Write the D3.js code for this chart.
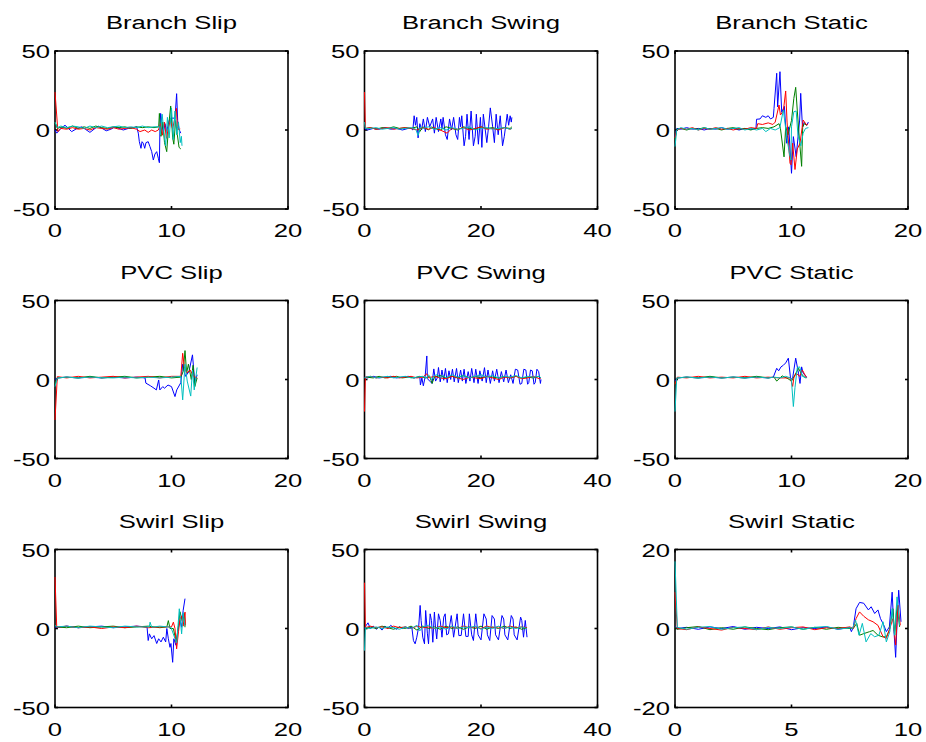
<!DOCTYPE html>
<html>
<head>
<meta charset="utf-8">
<script src="https://cdn.jsdelivr.net/npm/d3@7"></script>
<style>
  body { margin: 0; background: #fff; }
  text { font-family: "Liberation Sans", Arial, sans-serif; fill: #000; }
</style>
</head>
<body>
<svg id="fig" width="926" height="742"></svg>
<script>
// ---- data: [time, value] pairs ----

// Branch Slip
const branchSlipB = [[0,0],[0.15,-2],[0.5,1],[0.86,3],[1.15,1],[1.43,-1],[1.9,1],[2.29,2],[2.6,0.5],[3.0,-1.5],[3.35,0.5],[3.7,2.5],[4.05,1],[4.4,-0.5],[4.8,0.5],[5.15,2],[5.5,1],[5.86,0],[6.3,1],[6.7,1.5],[7.01,2],[7.15,-2],[7.24,-7.4],[7.38,-11.6],[7.47,-7.4],[7.58,-8.4],[7.7,-11.6],[7.81,-8],[8.0,-7.4],[8.15,-10.5],[8.3,-13.7],[8.44,-19],[8.58,-15.2],[8.73,-13.7],[8.87,-17.9],[8.96,-20.7],[9.01,2],[9.07,10.5],[9.3,-2],[9.44,4],[9.58,-1],[9.8,6],[9.95,7.5],[10.3,7.5],[10.44,23],[10.53,6],[10.65,0.5],[10.79,-2]];
const branchSlipG = [[0,5],[0.2,1],[0.6,2],[1.0,1],[1.5,2.5],[2.0,1],[2.5,2],[3.0,1],[3.5,2.5],[4.0,1.5],[4.5,1],[5.0,2],[5.5,1.5],[6.0,2],[6.5,1],[7.0,2],[7.5,1.5],[8.0,2],[8.5,1.5],[8.9,2],[8.96,10.5],[9.1,-4],[9.25,5],[9.4,-8],[9.59,-13.7],[9.75,2],[9.93,15.2],[10.1,-5],[10.2,-9],[10.35,6],[10.5,-3],[10.65,-11],[10.8,-12]];
const branchSlipR = [[0,24],[0.25,-1],[0.5,1],[1.0,0.5],[1.5,1.5],[2.0,0.5],[2.5,1],[3.0,0],[3.5,1.5],[4.0,1],[4.5,0.5],[5.0,1.5],[5.5,0.5],[6.0,1],[6.5,1.5],[7.0,0.5],[7.3,-1],[7.7,0],[8.0,-1.5],[8.3,0],[8.6,-1],[8.87,0],[9.07,4],[9.22,-3.3],[9.4,5],[9.56,-5.3],[9.76,2],[9.9,6],[10.1,0.6],[10.27,7],[10.42,13.7],[10.5,2],[10.65,0],[10.75,0.6]];
const branchSlipC = [[0,5],[0.2,1.5],[0.5,2.5],[1.0,1.5],[1.5,2.5],[2.0,2],[2.5,1],[3.0,2.5],[3.5,1.5],[4.0,2.5],[4.5,1.5],[5.0,2],[5.5,2.5],[6.0,1.5],[6.5,2],[7.0,1.5],[7.5,2.5],[8.0,1.5],[8.5,2],[9.0,2],[9.05,-3],[9.2,10],[9.35,-2],[9.5,-10],[9.65,8],[9.8,-5],[10.0,14],[10.15,-6],[10.3,12],[10.45,-3],[10.6,5],[10.75,-8],[10.85,-4],[10.9,-10]];

// Branch Swing
const branchSwingB = [[0,1],[0.5,0],[1.5,1],[2.5,0.5],[3.5,1.5],[4.5,0.5],[5.5,1],[6.5,0],[7.5,1],[8.0,1],[8.3,0],[8.52,9],[8.75,3],[8.97,8],[9.2,-5],[9.5,4],[9.8,0],[10.1,7],[10.45,-1],[10.8,8],[11.2,2],[11.7,7],[12.0,-2],[12.3,8],[12.7,-1],[13.1,7],[13.3,1],[13.5,8],[13.9,-3],[14.2,-6],[14.6,7],[14.95,0],[15.3,8],[15.7,-3],[16.0,-6],[16.3,8],[16.5,2],[16.7,9],[17.1,-10],[17.35,-4],[17.6,10],[17.95,-6],[18.3,12],[18.7,-10],[19.0,-4],[19.2,10],[19.55,-9],[19.9,8],[20.15,-11],[20.4,10],[21.0,-8],[21.3,2],[21.6,14],[22.0,2],[22.3,-8],[22.6,10],[22.95,-3],[23.3,9],[23.7,-10],[24.0,-4],[24.5,10],[24.75,3],[25.0,9],[25.2,5],[25.3,8]];
const branchSwingG = [[0,2],[0.3,1],[1,1.5],[2,0.5],[3,1.5],[4,1],[5,2],[6,1],[7,1.5],[8,1],[9,2],[9.5,-1],[10,2],[11,0],[11.5,2],[12,1],[13,0],[14,2],[15,1],[16,0],[17,2],[18,1],[19,0.5],[20,2],[21,1],[22,1.5],[23,0.5],[24,1.5],[25,1],[25.3,2]];
const branchSwingR = [[0,24],[0.15,1],[1,1.5],[2,0.5],[3,1],[4,1.5],[5,0.5],[6,1],[7,1.5],[8,1],[9,0],[10,1.5],[11,0.5],[12,1.5],[13,0],[14.2,-2],[15,1],[16,0.5],[17,1.5],[18,0],[19,1],[20,2],[21,0.5],[22,1],[23,0],[24,1.5],[25,0.5],[25.3,1]];
const branchSwingC = [[0,5],[0.15,1],[1,1],[2,1.5],[3,0.5],[4,1],[5,1.5],[6,0.5],[7,1],[8,1.5],[8.8,0.5],[9.2,-3.5],[9.6,2],[10,1],[11,2],[12,0.5],[13,1.5],[14,0],[15,1.5],[16,0.5],[17,1],[18,2],[19,0],[20,1],[21,1.5],[22,0.5],[23,1],[24,1.5],[25,0.5],[25.3,1]];

// Branch Static
const branchStaticB = [[0,-4],[0.15,1],[0.5,0.5],[1,1.5],[1.5,0.5],[2,1],[2.5,0],[3,1],[3.5,0.5],[4,1.5],[4.5,0.5],[5,1],[5.5,0],[6,1],[6.5,0.5],[6.95,1],[7.0,6.8],[7.3,7],[7.5,9],[7.8,8],[8.0,9],[8.2,7],[8.44,8],[8.5,13.7],[8.73,35.9],[8.81,14.6],[9.01,36.9],[9.16,11.2],[9.39,15],[9.59,-8.4],[9.76,2],[10.0,-27.4],[10.16,-4.2],[10.4,-16.9],[10.7,6.3],[10.79,23.2],[10.94,2],[11.1,5],[11.3,3],[11.45,5]];
const branchStaticG = [[0,-6],[0.15,0.5],[0.5,1],[1,0],[1.5,1],[2,0.5],[2.5,1.5],[3,0.5],[3.5,1],[4,0],[4.5,1],[5,1.5],[5.5,0.5],[6,1],[6.5,0],[7,1],[7.5,1.5],[8,1],[8.5,2],[8.93,4],[9.05,1],[9.36,-17],[9.5,2],[9.7,-3],[10.0,6],[10.2,20],[10.36,27],[10.5,12],[10.7,-8],[10.87,-23],[10.96,1.6],[11.1,4],[11.3,3]];
const branchStaticR = [[0,-5],[0.15,0],[0.5,1],[1,0.5],[1.5,1.5],[2,0],[2.5,1],[3,0.5],[3.5,1.5],[4,0.5],[4.5,1],[5,0],[5.5,1],[6,0.5],[6.5,1.5],[7,1],[7.1,4],[7.5,3.5],[8.0,4.5],[8.4,3.5],[8.6,5],[8.93,15.8],[9.05,9.5],[9.3,12],[9.5,24.7],[9.62,5],[9.87,-21],[9.96,-22],[10.1,-8.4],[10.3,-25],[10.5,-12],[10.73,-8.4],[11.0,6.3],[11.3,3],[11.4,4]];
const branchStaticC = [[0,-10.5],[0.15,0],[0.5,1.5],[1,0.5],[1.5,1],[2,0],[2.5,1.5],[3,0.5],[3.5,1],[4,1.5],[4.5,0.5],[5,1],[5.5,1.5],[6,0],[6.5,1],[7,0],[7.5,1],[7.8,-1],[8.2,1],[8.6,0],[9.0,1.5],[9.3,12.6],[9.59,-4.2],[9.81,-14.6],[9.95,-19],[10.0,2],[10.2,11.6],[10.4,12],[10.55,-3],[10.8,-10],[11.0,-2],[11.2,1],[11.45,1.5]];

// PVC Slip
const pvcSlipB = [[0,0],[0.2,1],[1,1.5],[2,1],[3,1.5],[4,1],[5,1.5],[6,1],[7,1.5],[7.73,1],[7.8,-2.3],[8.2,-4],[8.5,-5.5],[8.7,-6.6],[8.9,-0.3],[9.0,-6.6],[9.25,-4.5],[9.4,-5.5],[9.7,-3.5],[10.0,-4.5],[10.3,-10.8],[10.45,-6.6],[10.8,-2],[10.96,9.7],[11.2,2],[11.5,5],[11.8,15.6],[12.0,-2],[12.2,3]];
const pvcSlipG = [[0,-3],[0.2,1],[1,1.5],[2,1],[3,2],[4,1],[5,1.5],[6,2],[7,1],[8,1.5],[9,2],[10,1],[10.8,1.5],[11.0,5],[11.16,18.3],[11.3,4],[11.45,9.7],[11.7,0],[11.85,9],[12.0,-4.5],[12.2,1]];
const pvcSlipR = [[0,-25.6],[0.2,1.8],[1,1],[2,2],[3,1],[4,1.5],[5,2],[6,1],[7,1.5],[8,2],[9,1],[10,2],[10.8,2],[10.96,16.6],[11.1,8],[11.3,4],[11.6,6],[11.9,2],[12.2,1]];
const pvcSlipC = [[0,-4.5],[0.2,1],[1,1.5],[2,1],[3,1.5],[4,1.2],[5,1],[6,1.5],[7,1],[8,1.5],[9,1],[10,1.5],[10.8,2],[10.96,-12.9],[11.16,9.7],[11.35,-1],[11.65,-10.5],[11.8,6],[11.95,-6.6],[12.2,7.6]];

// PVC Swing
const pvcSwingB = [[0,1.5],[0.5,1],[1.5,2],[2.5,1],[3.5,1.5],[4.5,2],[5.5,1],[6.5,1.5],[7.5,2],[8.5,1],[9.5,1.5],[9.6,-3.5],[9.85,1],[10.1,-4],[10.4,1.5],[10.7,14.9],[10.8,0.5],[11.2,-1],[11.6,-2.5],[11.9,6.7],[12.2,-1],[12.5,1],[12.7,7.6],[13.0,-1.5],[13.3,6],[13.6,-0.5],[13.9,7],[14.2,-2],[14.5,5.5],[14.8,0],[15.1,6.5],[15.4,-1.5],[15.8,7],[16.1,-2],[16.5,6],[16.8,-1],[17.1,6.5],[17.4,-2.5],[17.8,5],[18.1,-1],[18.4,7],[18.8,-2],[19.1,6.5],[19.5,-2.5],[19.8,5.5],[20.2,-1],[20.6,7.5],[20.9,-2],[21.2,6],[21.6,-2.5],[22.0,5.5],[22.3,-1],[22.7,6.5],[23.1,-2],[23.5,5],[23.9,-1.5],[24.3,6],[24.7,-2],[25.1,3],[25.5,-2.5],[25.9,6.5],[26.3,6],[26.7,-3],[27.0,-2.5],[27.35,6.5],[27.7,6],[28.0,-3],[28.2,-2],[28.5,6],[28.8,5.5],[29.1,-3],[29.3,-2],[29.6,6.5],[29.9,5],[30.2,-2.5],[30.3,0]];
const pvcSwingG = [[0,1],[0.3,1.5],[1.5,1],[2.5,2],[3.5,1],[4.5,1.5],[5.5,2],[6.5,1],[7.5,1.5],[8.5,1],[9.5,2],[10.5,1],[11.2,2],[11.6,-2.5],[12,1.5],[13,2.5],[14,1],[15,2],[16,1],[17,2.5],[18,1],[19,2],[20,1],[21,2],[22,1.5],[23,1],[24,2],[25,1],[26,2],[27,1],[28,1.5],[29,1],[30,2],[30.3,1]];
const pvcSwingR = [[0,-20.3],[0.15,1.5],[1,2],[2,1],[3,1.5],[4,1],[5,2],[6,1],[7,1.5],[8,2],[9,1],[10,1.5],[10.7,3.6],[11,1],[12,2],[13,1],[14,0.5],[15,2],[16,1],[17,0],[18,1.5],[19,1],[20,0.5],[21,2],[22,1],[23,0],[24,1.5],[25,1],[26,2],[27,0.5],[28,1],[29,2],[30,0.5],[30.3,1]];
const pvcSwingC = [[0,1],[0.3,1.5],[1,2],[2,1],[3,1.5],[4,2],[5,1],[6,1.5],[7,2],[8,1],[9,1.5],[10,2],[10.7,1],[11,3],[11.5,0],[12,2.5],[12.5,3],[13,1],[13.5,2.5],[14,1],[15,3],[16,1.5],[17,2.5],[18,1],[19,2],[20,3],[21,1.5],[22,2.5],[23,1],[24,2],[25,1.5],[26,2.5],[27,1],[28,2],[29,1.5],[30,2],[30.3,1]];

// PVC Static
const pvcStaticB = [[0,-1],[0.2,1],[1,1.5],[2,1],[3,1.5],[4,1],[5,1.5],[6,1],[7,1.5],[8,1],[8.44,1.5],[8.73,7.1],[8.9,5.5],[9.1,8],[9.3,9],[9.5,10.5],[9.73,13.5],[9.93,0],[10.1,1],[10.36,13.5],[10.6,4],[10.73,-2.5],[10.87,8],[11.0,4],[11.3,1.5]];
const pvcStaticG = [[0,-3],[0.2,1],[1,1.5],[2,1],[3,2],[4,1],[5,1.5],[6,1],[7,2],[8,1],[8.5,1.5],[8.73,-1],[9.2,2.3],[9.7,0.5],[10.0,-1],[10.3,3],[10.6,7],[10.9,3],[11.2,1]];
const pvcStaticR = [[0,-3],[0.2,1.5],[1,1],[2,2],[3,1],[4,1.5],[5,1],[6,2],[7,1],[8,1.5],[9,1],[9.9,1],[10.1,-4.4],[10.2,1],[10.4,4],[10.7,2],[10.93,6],[11.3,1]];
const pvcStaticC = [[0,-20.3],[0.15,1],[1,1.5],[2,1],[3,1.5],[4,1],[5,1.5],[6,1],[7,1.5],[8,1],[8.5,1.5],[9,1],[9.5,2],[9.9,1],[10.0,-1],[10.16,-17.1],[10.3,-5],[10.5,7.5],[10.7,8],[10.93,2],[11.3,1]];

// Swirl Slip
const swirlSlipB = [[0,1],[0.2,0.5],[1,1.5],[2,0.5],[3,1],[4,1.5],[5,0.5],[6,1],[7,1.5],[7.9,1],[8.0,-7.6],[8.1,-3.4],[8.3,-6.5],[8.5,-4.5],[8.73,-9.5],[8.9,-6.5],[9.1,-8.5],[9.3,-5.5],[9.5,-8.5],[9.6,0],[9.73,-6.5],[9.87,-11.9],[9.95,-9.5],[10.1,-21.4],[10.2,-6.5],[10.38,-10.6],[10.6,0.8],[10.73,5],[10.87,0.8],[11.0,11.4],[11.16,18.9]];
const swirlSlipG = [[0,2],[0.15,1],[1,0.5],[2,1.5],[3,0.5],[4,1],[5,1.5],[6,0.5],[7,1],[8,1.5],[9,0.5],[9.6,1],[9.73,5],[9.87,0],[10.16,0],[10.4,-8.5],[10.6,2],[10.73,10.6],[10.95,4],[11.1,9.5],[11.16,0.8]];
const swirlSlipR = [[0,32.6],[0.15,0.8],[1,1.5],[2,0.5],[3,1],[4,0],[5,1],[6,0.5],[7,1.5],[8,0.5],[9,1],[10.0,1],[10.16,4],[10.3,0],[10.44,-12.9],[10.6,-2],[10.73,6],[10.87,8],[11.0,1.5],[11.16,10.4],[11.2,2]];
const swirlSlipC = [[0,2],[0.15,1],[1,1.5],[2,0.5],[3,1.5],[4,1],[5,0.5],[6,1.5],[7,1],[8.1,1],[8.16,4],[8.3,0.8],[9,1.5],[9.95,0.8],[10.3,-6.4],[10.45,-9],[10.67,12.5],[10.87,-3.4],[11.0,10],[11.16,2]];

// Swirl Swing
const swirlSwingB = [[0,0],[0.3,2],[0.6,3.6],[1.0,0],[1.5,1.5],[2.0,-0.5],[2.5,1],[3.0,-1],[3.5,1.5],[4.0,0],[4.5,2],[5.0,0.5],[5.5,-0.5],[6.0,1],[6.5,0],[7.0,1],[7.5,0],[8.12,0.9],[8.4,-7.6],[8.69,-9.7],[8.98,-5.5],[9.3,1],[9.55,14.6],[9.72,5.1],[10.0,-5.5],[10.3,-9.7],[10.5,11.4],[10.8,-3.4],[10.99,-9.7],[11.27,9.3],[11.5,5],[11.73,-8.7],[12.0,10.4],[12.2,0],[12.4,-6.6],[12.7,9.3],[13.0,5],[13.3,-5.5],[13.6,7.2],[13.85,9.3],[14.1,-4],[14.4,-3.4],[14.9,8.2],[15.3,-5.5],[15.9,9.3],[16.2,-4.5],[16.6,-4.4],[17.0,9.3],[17.4,-5],[17.8,-5],[18.0,9.3],[18.4,-4],[18.7,-7.6],[19.1,9.3],[19.5,-4],[20.0,-7.2],[20.5,9.3],[20.9,6],[21.1,-4],[21.5,-7.6],[21.9,8.2],[22.3,6],[22.5,-4],[23.0,-7.2],[23.6,8.2],[23.9,6],[24.1,-4],[24.6,-7.2],[25.2,8.2],[25.5,6],[25.7,-4],[26.2,-7.2],[26.8,7.2],[27.0,5],[27.3,-5.5],[27.6,5.1],[27.9,-5.5]];
const swirlSwingG = [[0,1],[0.3,0],[1,1],[2,0],[3,1.5],[4,0.5],[5,-0.5],[6,1],[7,0],[8,1.5],[9,-1],[10,1.5],[11,0],[12,1],[13,-0.5],[14,1.5],[15,0],[16,1],[17,-0.5],[18,1],[19,0],[20,1.5],[21,-0.5],[22,1],[23,0],[24,1.5],[25,0],[26,1],[27,-0.5],[27.9,0.5]];
const swirlSwingR = [[0,29],[0.15,0.5],[1,1.5],[2,0.5],[3,1],[4,0],[5,1.5],[6,0.5],[7,1],[8,0],[9,1.5],[10,0.5],[11,1],[12,0],[13,1.5],[14,0.5],[15,1],[16,0],[17,1.5],[18,0.5],[19,1],[20,0],[21,1.5],[22,0.5],[23,1],[24,0],[25,1.5],[26,0.5],[27,1],[27.9,0.5]];
const swirlSwingC = [[0,-14],[0.15,0.5],[1,0],[2,1],[3,0],[4,1],[5,0.5],[6,-0.5],[7,1],[8,0],[9,2],[9.5,-1.5],[10,1],[11,2],[12,0],[13,1],[14,-0.5],[15,1.5],[16,0],[17,1],[18,0.5],[19,1.5],[20,-0.5],[21,1],[22,0],[23,1.5],[24,0],[25,1],[26,0],[27,1],[27.9,0]];

// Swirl Static
const swirlStaticB = [[0,0.5],[0.1,0],[0.5,0.3],[1,-0.2],[1.5,0.4],[2,0],[2.5,0.5],[3,-0.2],[3.5,0.3],[4,0],[4.5,0.4],[5,-0.3],[5.5,0.2],[6,0],[6.5,0.4],[7,-0.2],[7.5,0.3],[7.57,-0.8],[7.65,0.3],[7.77,5],[7.92,6.6],[8.1,6.4],[8.3,4.7],[8.42,5.5],[8.57,3.8],[8.71,4.7],[8.82,2.5],[8.95,1],[9.07,-0.8],[9.2,0.4],[9.32,9.2],[9.4,-0.8],[9.47,-7.3],[9.53,1.5],[9.6,9.7],[9.7,1.7]];
const swirlStaticG = [[0,0.3],[0.1,-0.2],[0.5,0.2],[1,0.5],[1.5,-0.3],[2,0.2],[2.5,-0.2],[3,0.4],[3.5,0],[4,-0.3],[4.5,0.2],[5,0.4],[5.5,-0.2],[6,0.3],[6.5,-0.2],[7,0.3],[7.5,0],[7.65,0],[7.8,1.3],[7.92,-1.7],[8.1,-1.3],[8.35,-0.8],[8.5,-0.5],[8.71,-1.7],[8.9,-2.1],[9.07,-2.1],[9.2,-0.4],[9.35,5],[9.43,-1.7],[9.53,5.9],[9.64,0.4]];
const swirlStaticR = [[0,9.2],[0.1,0],[0.5,-0.3],[1,0.4],[1.5,0],[2,-0.4],[2.5,0.3],[3,0],[3.5,-0.3],[4,0.4],[4.5,-0.2],[5,0.2],[5.5,0.4],[6,-0.3],[6.5,0.2],[7,0],[7.5,0.4],[7.65,0],[7.77,2.5],[7.92,4.2],[8.1,3.1],[8.3,2.2],[8.5,1.7],[8.71,0.8],[8.93,-2.1],[9.07,-2.5],[9.22,0],[9.35,2.5],[9.47,-4.2],[9.57,5.9],[9.67,0.8]];
const swirlStaticC = [[0,17],[0.1,0.3],[0.5,-0.2],[1,0.3],[1.5,0.5],[2,-0.2],[2.5,0.2],[3,0.4],[3.5,-0.3],[4,0.3],[4.5,0],[5,0.4],[5.5,-0.2],[6,0.3],[6.5,0.5],[7,-0.2],[7.5,0.2],[7.62,0],[7.75,2.1],[7.9,-1.7],[8.04,1.3],[8.2,-3.4],[8.4,-1.3],[8.57,-2.1],[8.75,-1.7],[8.93,1.7],[9.07,-3.4],[9.22,-0.8],[9.32,5],[9.42,-1.7],[9.53,8],[9.64,0.8]];

// ---- panel layout info ----
const titles = ['Branch Slip', 'Branch Swing', 'Branch Static',
                'PVC Slip', 'PVC Swing', 'PVC Static',
                'Swirl Slip', 'Swirl Swing', 'Swirl Static'];
const xMaxes = [20, 40, 20, 20, 40, 20, 20, 40, 10];
const yMaxes = [50, 50, 50, 50, 50, 50, 50, 50, 20];
const seriesColors = ['#0000ff', '#008000', '#ff0000', '#00bfbf'];  // b g r c, matlab order
const panelSeries = [
  [branchSlipB, branchSlipG, branchSlipR, branchSlipC],
  [branchSwingB, branchSwingG, branchSwingR, branchSwingC],
  [branchStaticB, branchStaticG, branchStaticR, branchStaticC],
  [pvcSlipB, pvcSlipG, pvcSlipR, pvcSlipC],
  [pvcSwingB, pvcSwingG, pvcSwingR, pvcSwingC],
  [pvcStaticB, pvcStaticG, pvcStaticR, pvcStaticC],
  [swirlSlipB, swirlSlipG, swirlSlipR, swirlSlipC],
  [swirlSwingB, swirlSwingG, swirlSwingR, swirlSwingC],
  [swirlStaticB, swirlStaticG, swirlStaticR, swirlStaticC]
];

const colLeft = [55, 364.5, 675];
const rowTop = [51, 300.5, 549.5];
const axW = 233, axH = 158;
const stretch = 1.35;   // text in the figure is wide
const fontSize = 19;

let svg = d3.select('#fig');

titles.forEach(function (title, i) {
  let left = colLeft[i % 3];
  let top = rowTop[Math.floor(i / 3)];

  let x = d3.scaleLinear().domain([0, xMaxes[i]]).range([left, left + axW]);
  let y = d3.scaleLinear().domain([-yMaxes[i], yMaxes[i]]).range([top + axH, top]);

  let g = svg.append('g');

  // box
  g.append('rect')
    .attr('x', left).attr('y', top)
    .attr('width', axW).attr('height', axH)
    .attr('fill', 'none')
    .attr('stroke', '#000')
    .attr('stroke-width', 1.6);

  // ticks inside on all four sides
  let xt = x.ticks(2), yt = y.ticks(2);
  xt.forEach(function (t) {
    g.append('line').attr('x1', x(t)).attr('x2', x(t))
      .attr('y1', top + axH).attr('y2', top + axH - 3)
      .attr('stroke', '#000').attr('stroke-width', 1.6);
    g.append('line').attr('x1', x(t)).attr('x2', x(t))
      .attr('y1', top).attr('y2', top + 3)
      .attr('stroke', '#000').attr('stroke-width', 1.6);
    g.append('text')
      .attr('transform', `translate(${x(t)},${top + axH + 28}) scale(${stretch},1)`)
      .attr('text-anchor', 'middle')
      .style('font-size', fontSize + 'px')
      .text(t);
  });
  yt.forEach(function (t) {
    g.append('line').attr('x1', left).attr('x2', left + 3)
      .attr('y1', y(t)).attr('y2', y(t))
      .attr('stroke', '#000').attr('stroke-width', 1.6);
    g.append('line').attr('x1', left + axW).attr('x2', left + axW - 3)
      .attr('y1', y(t)).attr('y2', y(t))
      .attr('stroke', '#000').attr('stroke-width', 1.6);
    g.append('text')
      .attr('transform', `translate(${left - 5},${y(t) + 7}) scale(${stretch},1)`)
      .attr('text-anchor', 'end')
      .style('font-size', fontSize + 'px')
      .text(t);
  });

  // title
  g.append('text')
    .attr('transform', `translate(${left + axW / 2},${top - 22}) scale(${stretch},1)`)
    .attr('text-anchor', 'middle')
    .style('font-size', fontSize + 'px')
    .text(title);

  // lines
  let line = d3.line().x(d => x(d[0])).y(d => y(d[1]));
  panelSeries[i].forEach(function (s, k) {
    g.append('path')
      .attr('d', line(s))
      .attr('fill', 'none')
      .attr('stroke', seriesColors[k])
      .attr('stroke-width', 1)
      .attr('stroke-linejoin', 'round');
  });
});
</script>
</body>
</html>
